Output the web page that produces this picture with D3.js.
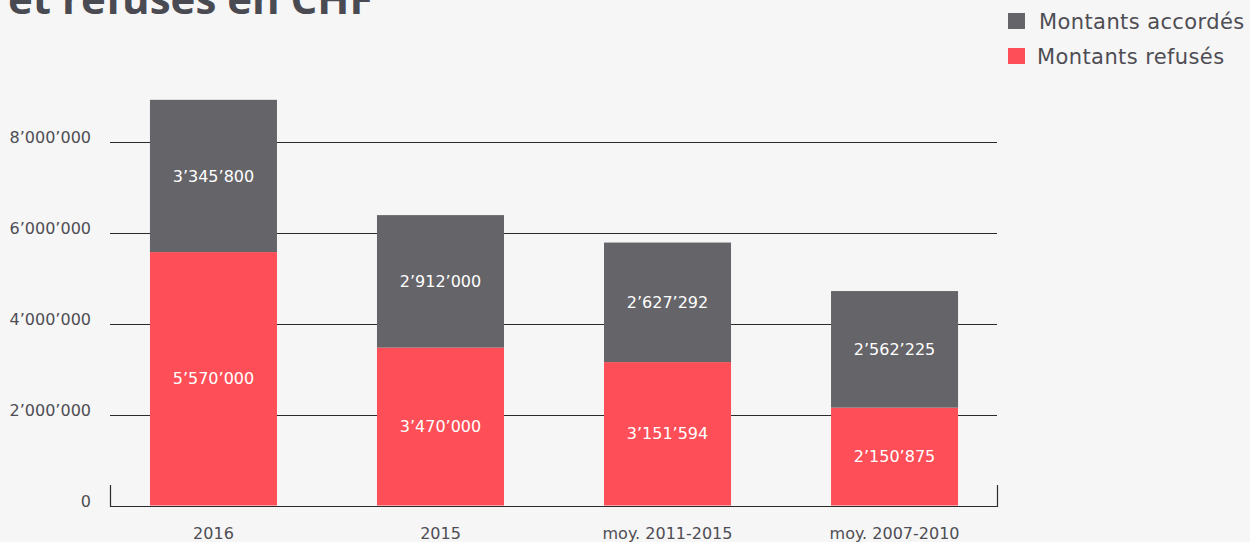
<!DOCTYPE html>
<html>
<head>
<meta charset="utf-8">
<script src="https://cdn.jsdelivr.net/npm/d3@7"></script>
<style>
body { margin: 0; background: #f6f6f6; }
svg { display: block; font-family: "DejaVu Sans", sans-serif; }
</style>
</head>
<body>
<div id="chart"></div>
<script>
var categories = ["2016", "2015", "moy. 2011-2015", "moy. 2007-2010"];
var refuses = [5570000, 3470000, 3151594, 2150875];//red part, bottom
var accordes = [3345800, 2912000, 2627292, 2562225];//grey part, on top
var yTicks = [0, 2000000, 4000000, 6000000, 8000000];
var seriesNames = ["Montants accordés", "Montants refusés"];

var w = 1250, h = 542;
var grey = "#656469", red = "#fe4f58", textCol = "#4e4d54";

// number format with ’ as thousands separator
var fmt = d3.formatLocale({decimal: ".", thousands: "’", grouping: [3], currency: ["", ""]}).format(",d");

var svg = d3.select("#chart").append("svg")
    .attr("width", w)
    .attr("height", h);

var x = d3.scaleBand()
    .domain(categories)
    .range([110, 998])
    .paddingInner(100 / 227)
    .paddingOuter(0.176);

var y = d3.scaleLinear()
    .domain([0, 8000000])
    .range([505.5, 141.5]);

// title, mostly cut off by the top of the picture
svg.append("text")
    .attr("x", 8)
    .attr("y", 14)
    .attr("font-family", "'Open Sans', sans-serif")
    .attr("font-size", 42)
    .attr("font-weight", 700)
    .attr("fill", "#4a4a52")
    .text("et refusés en CHF");

// grid lines
svg.selectAll(".grid")
    .data(yTicks.filter(function(d) { return d > 0; }))
    .enter()
    .append("line")
    .attr("x1", 110)
    .attr("x2", 997)
    .attr("y1", function(d) { return Math.round(y(d)) + 0.5; })
    .attr("y2", function(d) { return Math.round(y(d)) + 0.5; })
    .attr("stroke", "#2b2b2b")
    .attr("stroke-width", 1);

// y labels
svg.selectAll(".ylab")
    .data(yTicks)
    .enter()
    .append("text")
    .attr("x", 91)
    .attr("y", function(d) { return y(d) + 1; })
    .attr("text-anchor", "end")
    .attr("font-size", 16)
    .attr("fill", textCol)
    .text(function(d) { return fmt(d); });

var stacked = categories.map(function(c, i) {
    return {cat: c, ref: refuses[i], acc: accordes[i]};
});

var bars = svg.selectAll("g.bar")
    .data(stacked)
    .enter()
    .append("g")
    .attr("class", "bar");

bars.append("rect")
    .attr("x", function(d) { return x(d.cat); })
    .attr("width", x.bandwidth())
    .attr("y", function(d) { return y(d.ref); })
    .attr("height", function(d) { return y(0) - y(d.ref); })
    .attr("fill", red);

bars.append("rect")
    .attr("x", function(d) { return x(d.cat); })
    .attr("width", x.bandwidth())
    .attr("y", function(d) { return y(d.ref + d.acc); })
    .attr("height", function(d) { return y(d.ref) - y(d.ref + d.acc); })
    .attr("fill", grey);

// value labels in the middle of each part
bars.append("text")
    .attr("x", function(d) { return x(d.cat) + x.bandwidth() / 2; })
    .attr("y", function(d) { return (y(0) + y(d.ref)) / 2; })
    .attr("dy", ".35em")
    .attr("text-anchor", "middle")
    .attr("font-size", 16)
    .attr("fill", "#fff")
    .text(function(d) { return fmt(d.ref); });

bars.append("text")
    .attr("x", function(d) { return x(d.cat) + x.bandwidth() / 2; })
    .attr("y", function(d) { return (y(d.ref) + y(d.ref + d.acc)) / 2; })
    .attr("dy", ".35em")
    .attr("text-anchor", "middle")
    .attr("font-size", 16)
    .attr("fill", "#fff")
    .text(function(d) { return fmt(d.acc); });

// base line with small end ticks
svg.append("path")
    .attr("d", "M110.5,485V506.5H997.5V485")
    .attr("fill", "none")
    .attr("stroke", "#2b2b2b")
    .attr("stroke-width", 1.2);

// category labels
svg.selectAll(".xlab")
    .data(categories)
    .enter()
    .append("text")
    .attr("x", function(d) { return x(d) + x.bandwidth() / 2; })
    .attr("y", 539)
    .attr("text-anchor", "middle")
    .attr("font-size", 16)
    .attr("fill", textCol)
    .text(function(d) { return d; });

// legend
var legend = svg.selectAll(".legend")
    .data(seriesNames)
    .enter()
    .append("g")
    .attr("class", "legend")
    .attr("transform", function(d, i) { return "translate(1008," + (13 + i * 35) + ")"; });

legend.append("rect")
    .attr("width", 17)
    .attr("height", 16)
    .attr("fill", function(d, i) { return i === 0 ? grey : red; });

legend.append("text")
    .attr("x", function(d, i) { return i === 0 ? 31 : 29; })
    .attr("y", 16)
    .attr("font-size", 21)
    .attr("letter-spacing", 0.4)
    .attr("fill", textCol)
    .text(function(d) { return d; });
</script>
</body>
</html>
